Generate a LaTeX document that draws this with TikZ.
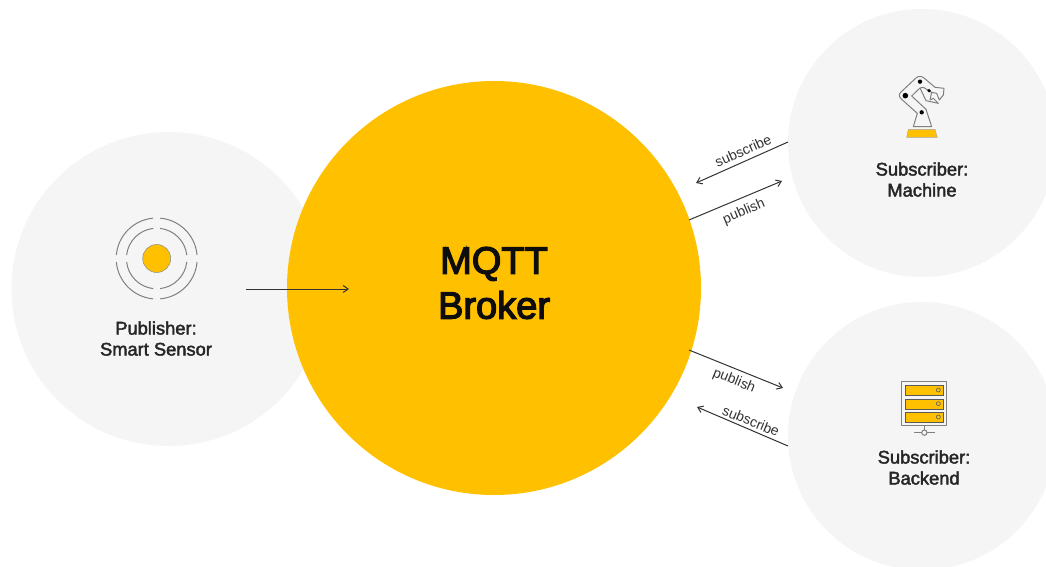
\documentclass[tikz,border=0pt]{standalone}
\usepackage{fontspec}
\setmainfont{Liberation Sans}
\newfontfamily\labelfont[FakeBold=2.2]{Liberation Sans}
\newfontfamily\titlefont[FakeBold=3.5]{Liberation Sans}
\usetikzlibrary{arrows.meta}
\definecolor{amberfill}{HTML}{FFC000}
\definecolor{paleround}{HTML}{F5F5F5}
\definecolor{inkline}{HTML}{333333}
\tikzset{
  x=1pt,y=-1pt,
  disc/.style={circle,fill=#1,draw=none,inner sep=0pt},
  flow/.style={draw=inkline,line width=1pt,-{Straight Barb[length=5pt,width=7pt,line width=1pt]}},
  flowtext/.style={font=\fontsize{14}{15}\selectfont,text=inkline,inner sep=0pt},
  caption/.style={font=\labelfont\fontsize{18.3}{21}\selectfont,align=center,text=black!85,inner sep=0pt},
  iconline/.style={draw=black!50,line width=1pt,line join=round},
  ringline/.style={draw=black!50,line width=1pt},
}
\begin{document}
\begin{tikzpicture}
\useasboundingbox (0,0) rectangle (1046,567);
\fill[white] (0,0) rectangle (1046,567);
\clip (0,0) rectangle (1046,567);
% discs
\node[disc=paleround,minimum size=314pt] (pub) at (168.5,289) {};
\node[disc=paleround,minimum size=268pt] (mach) at (922,143) {};
\node[disc=paleround,minimum size=268pt] (back) at (922,436) {};
\node[disc=amberfill,minimum size=414pt] (broker) at (494,288) {};
% titles
\node[font=\titlefont\fontsize{38}{45}\selectfont,align=center,inner sep=0pt,text=black!95] (brokertext) at (494,283) {MQTT\\Broker};
\node[caption] (pubtext) at (156,338.5) {Publisher:\\Smart Sensor};
\node[caption] (machtext) at (922,179.5) {Subscriber:\\Machine};
\node[caption] (backtext) at (924,467.5) {Subscriber:\\Backend};
% connector ends
\coordinate (a1) at (246,289); \coordinate (a2) at (349,289);
\coordinate (s1) at (788,142); \coordinate (s2) at (696,183);
\coordinate (p1) at (689,220); \coordinate (p2) at (782,181);
\coordinate (q1) at (689,350); \coordinate (q2) at (783,388);
\coordinate (t1) at (788,446); \coordinate (t2) at (697,407);
\draw[flow] (a1) -- (a2);
\draw[flow] (s1) -- (s2);
\draw[flow] (p1) -- (p2);
\draw[flow] (q1) -- (q2);
\draw[flow] (t1) -- (t2);
\node[flowtext,rotate=24] (l1) at (743,151) {subscribe};
\node[flowtext,rotate=23] (l2) at (744,212) {publish};
\node[flowtext,rotate=-22] (l3) at (734,381) {publish};
\node[flowtext,rotate=-22] (l4) at (751,421) {subscribe};
% sensor icon
\begin{scope}[shift={(156.7,258.5)}]
  \fill[amberfill,draw=black!45,line width=.5pt] (0,0) circle[radius=14];
  \foreach \r/\g in {30.3/6.5,40.5/5}{
    \foreach \q in {0,90,180,270}{
      \draw[ringline] ({\r*cos(\q+\g)},{\r*sin(\q+\g)}) arc[start angle=\q+\g,end angle=\q+90-\g,radius=\r];
    }
  }
\end{scope}
% robot icon
\begin{scope}[shift={(880,60)},x=0.3333pt,y=-0.3333pt]
  \fill[amberfill,draw=black!35,line width=.4pt] (85,208) -- (165,208) -- (172,232) -- (80,232) -- cycle;
  \draw[iconline] (100,200) -- (112,160) -- (65,118) .. controls (56,110) and (56,103) .. (63,96) -- (108,54) .. controls (116,47) and (124,48) .. (132,54) -- (165,82) -- (192,85) -- (190,105) -- (178,120) -- (170,100) -- (155,97) -- (130,82) -- (120,84) -- (95,108) -- (138,148) -- (155,200) -- cycle;
  \draw[iconline] (120,84) -- (138,122) -- (175,130) -- (160,115) -- (150,120) (155,97) -- (150,120);
  \fill[black] (120,65) circle[radius=6.5] (76,107) circle[radius=8.5] (147,92) circle[radius=5.5] (125,157) circle[radius=6.5];
\end{scope}
% server icon
\begin{scope}[shift={(880,370)},x=0.3333pt,y=-0.3333pt]
  \draw[iconline,fill=paleround] (65,35) rectangle (200,167);
  \foreach \yy in {46,87,127}{
    \fill[amberfill,draw=black!65,line width=.8pt] (75,\yy) rectangle (190,\yy+30);
    \draw[draw=black!60,line width=.7pt] (175,\yy+14) circle[radius=6];
  }
  \draw[iconline] (133,167) -- (133,180) (103,188) -- (125,188) (141,188) -- (165,188);
  \draw[iconline] (133,188) circle[radius=8];
\end{scope}
\end{tikzpicture}
\end{document}
